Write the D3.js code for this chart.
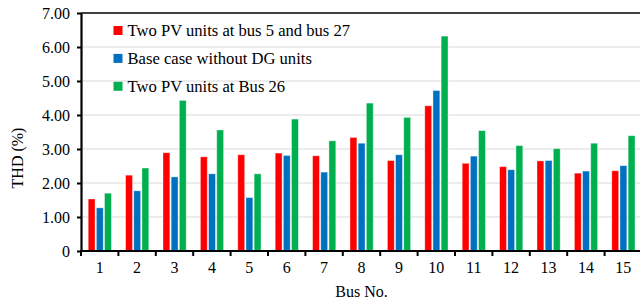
<!DOCTYPE html>
<html><head><meta charset="utf-8">
<script src="https://cdn.jsdelivr.net/npm/d3@7"></script>
<style>body{margin:0;background:#fff;} svg{display:block;}</style>
</head><body>
<svg id="c" width="640" height="302"></svg>
<script>
const categories = ["1","2","3","4","5","6","7","8","9","10","11","12","13","14","15"];
const seriesNames = ["Two PV units at bus 5 and bus 27","Base case without DG units","Two PV units at Bus 26"];
const seriesColors = ["#FF0000","#0070C0","#00B050"];
const pvBus5and27 = [1.53,2.23,2.89,2.77,2.83,2.88,2.80,3.34,2.66,4.27,2.58,2.48,2.65,2.29,2.36];
const baseCase    = [1.27,1.77,2.18,2.27,1.57,2.81,2.32,3.17,2.83,4.72,2.79,2.39,2.66,2.35,2.51];
const pvBus26     = [1.70,2.44,4.43,3.56,2.27,3.88,3.24,4.35,3.93,6.32,3.54,3.10,3.01,3.17,3.39];
const yTicks = [0,1,2,3,4,5,6,7];
const yLabel = "THD (%)";
const xLabel = "Bus No.";

(function(){
const seriesValues = [pvBus5and27, baseCase, pvBus26];
const svg = d3.select("#c");
const mLeft = 81, mRight = 642, mTop = 13, mBottom = 251;
const font = "'Liberation Serif','Times New Roman',serif";

const x0 = d3.scaleBand().domain(categories).range([mLeft, mRight]).padding(0);
const x1 = d3.scaleBand().domain(d3.range(3)).range([7.2, 30.4]).paddingInner(0.16);
const y = d3.scaleLinear().domain([0,7]).range([mBottom, mTop]);

// gridlines
svg.append("g").selectAll("line").data(yTicks.filter(t => t>0 && t<7)).join("line")
  .attr("x1", mLeft).attr("x2", 640).attr("y1", d=>y(d)).attr("y2", d=>y(d))
  .attr("stroke", "#d9d9d9").attr("stroke-width", 1);

// bars
const g = svg.append("g");
categories.forEach((c, i) => {
  seriesValues.forEach((vals, s) => {
    g.append("rect")
      .attr("x", x0(c) + x1(s))
      .attr("y", y(vals[i]))
      .attr("width", x1.bandwidth())
      .attr("height", y(0) - y(vals[i]))
      .attr("fill", seriesColors[s])
      .attr("stroke", "rgba(255,255,255,0.45)")
      .attr("stroke-width", 0.8);
  });
});

// top border
svg.append("line").attr("x1", mLeft).attr("x2", 640).attr("y1", y(7)).attr("y2", y(7))
  .attr("stroke", "#000").attr("stroke-width", 1.5);

// y axis
const ya = svg.append("g").attr("transform", `translate(${mLeft},0)`)
  .call(d3.axisLeft(y).tickValues(yTicks).tickSize(4).tickSizeOuter(0)
    .tickFormat(d => d === 0 ? "0" : d.toFixed(2)));
ya.select(".domain").attr("stroke", "#000").attr("stroke-width", 2.2);
ya.selectAll(".tick line").attr("stroke", "#000").attr("stroke-width", 2);
ya.selectAll(".tick text").attr("font-family", font).attr("font-size", 16).attr("fill", "#000").attr("x", -11);

// x axis
const xa = svg.append("g").attr("transform", `translate(0,${mBottom})`)
  .call(d3.axisBottom(x0).tickSize(0).tickSizeOuter(0));
xa.select(".domain").remove();
xa.selectAll(".tick text").attr("font-family", font).attr("font-size", 16).attr("fill", "#000").attr("dy", "1.2em");
svg.append("line").attr("x1", mLeft-1).attr("x2", 640).attr("y1", mBottom).attr("y2", mBottom)
  .attr("stroke", "#000").attr("stroke-width", 2.2);
svg.append("g").selectAll("line").data(categories.concat(["end"])).join("line")
  .attr("x1", d => d === "end" ? mRight : x0(d)).attr("x2", d => d === "end" ? mRight : x0(d))
  .attr("y1", mBottom).attr("y2", mBottom + 5)
  .attr("stroke", "#000").attr("stroke-width", 2);

// axis labels
svg.append("text").attr("x", (mLeft+mRight)/2).attr("y", 297).attr("text-anchor", "middle")
  .attr("font-family", font).attr("font-size", 16).text(xLabel);
svg.append("text").attr("transform", "translate(23,158) rotate(-90)").attr("text-anchor", "middle")
  .attr("font-family", font).attr("font-size", 16).text(yLabel);

// legend
const lg = svg.append("g");
seriesNames.forEach((n, i) => {
  const cy = 30.5 + i * 27.9;
  lg.append("rect").attr("x", 113.5).attr("y", cy - 4.5).attr("width", 9).attr("height", 9).attr("fill", seriesColors[i]);
  lg.append("text").attr("x", 127.5).attr("y", cy + 5.5).attr("font-family", font).attr("font-size", 16.6).text(n);
});
})();
</script>
</body></html>
